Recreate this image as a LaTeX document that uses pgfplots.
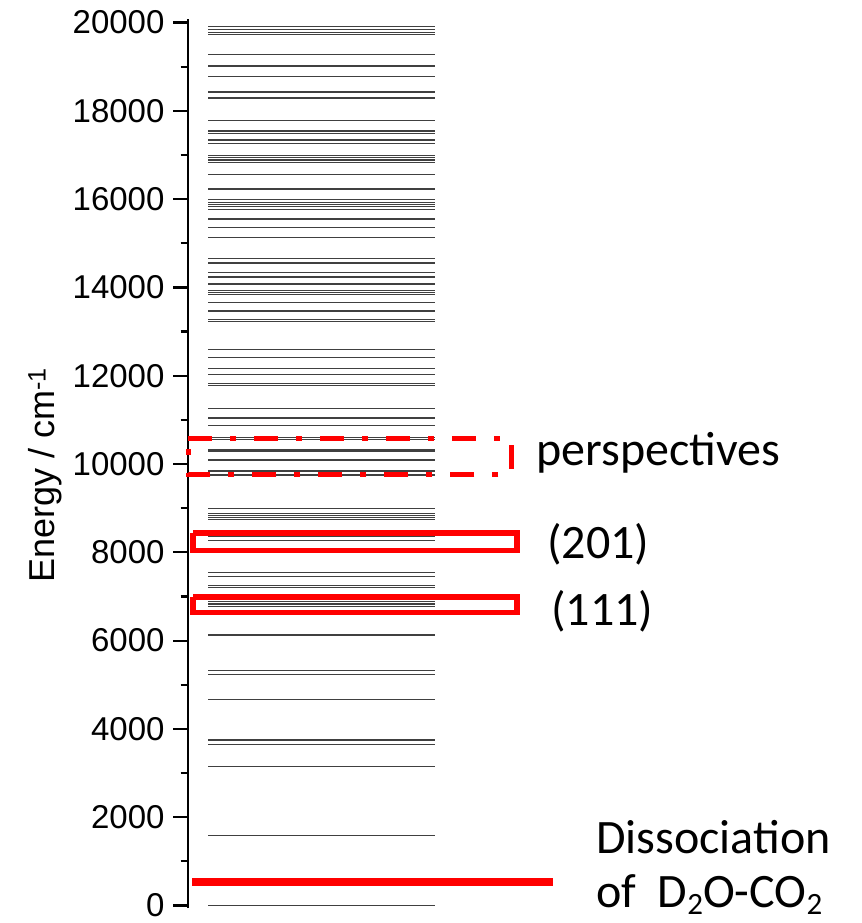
\documentclass[border=0pt]{standalone}
\usepackage{fontspec}
\setmainfont{Liberation Sans}
\newfontfamily\calibri{Carlito}
\usepackage{pgfplots}
\pgfplotsset{compat=1.18}
\newcommand{\sub}[1]{\raisebox{-0.14em}{\fontsize{31}{31}\selectfont #1}}
\begin{document}
\begin{tikzpicture}
\begin{axis}[
  scale only axis,
  width=372pt, height=888.8pt,
  xmin=188, xmax=560,
  ymin=-57, ymax=20075,
  axis x line=none,
  axis y line*=left,
  clip=false,
  ytick={0,2000,...,20000},
  minor y tick num=1,
  tick align=outside,
  major tick length=15pt,
  minor tick length=7.5pt,
  axis line style={line width=2.2pt, black},
  every tick/.append style={line width=2.2pt, black},
  every major tick/.append style={line width=2.2pt, black},
  every minor tick/.append style={line width=2.2pt, black},
  scaled y ticks=false,
  /pgf/number format/1000 sep={},
  /pgf/number format/assume math mode=true,
  yticklabel style={font=\fontsize{33}{33}\selectfont, xshift=-5pt},
  ylabel={Energy / cm\textsuperscript{-1}},
  ylabel style={font=\fontsize{36}{36}\selectfont, at={(rel axis cs:-0.384,0.4872)}, anchor=center},
]
% invisible frame for page size
\path (axis cs:0,20510) rectangle (axis cs:861,-396);

% energy levels
\pgfplotsinvokeforeach{19905,19835,19775,19720,19280,19015,18782,18426,18290,17776,17542,17490,17339,17255,16983,16938,16886,16834,16562,16229,15986,15927,15873,15828,15760,15549,15361,15135,14659,14553,14333,14236,14077,13935,13889,13835,13663,13465,13277,13230,12598,12417,12159,12023,11820,11785,11252,11042,10877,10596,10559,10317,10288,10091,9841,9751,8997,8883,8838,8793,8747,8353,8272,7538,7447,7252,7207,6881,6829,6768,6127,5327,5237,4661,3749,3651,3144,1581,0}{
  \addplot[black!75, line width=1.1pt, forget plot] coordinates {(208,#1) (435,#1)};
}

% boxes
\addplot[red, line width=5pt, dash pattern=on 24pt off 18pt on 6pt off 18pt, forget plot]
  coordinates {(188,10578) (511,10578) (511,9754) (188,9754) (188,10578)};
\addplot[red, line width=5.5pt, forget plot]
  coordinates {(193,8437) (517,8437) (517,8041) (193,8041) (193,8437)};
\addplot[red, line width=5.5pt, forget plot]
  coordinates {(193,6988) (517,6988) (517,6636) (193,6636) (193,6988)};
\addplot[red, line width=7.4pt, forget plot]
  coordinates {(192,532) (553,532)};

\node[anchor=base west, inner sep=0pt, font=\calibri\fontsize{48}{48}\selectfont] at (axis cs:536,9977) {perspectives};
\node[anchor=base west, inner sep=0pt, font=\calibri\fontsize{48}{48}\selectfont] at (axis cs:547,7864) {(201)};
\node[anchor=base west, inner sep=0pt, font=\calibri\fontsize{48}{48}\selectfont] at (axis cs:551,6353) {(111)};
\node[anchor=base west, inner sep=0pt, font=\calibri\fontsize{48}{48}\selectfont] at (axis cs:596,1182) {Dissociation};
\node[anchor=base west, inner sep=0pt, font=\calibri\fontsize{48}{48}\selectfont] at (axis cs:596,-40) {of\ \ D\sub{2}O-CO\sub{2}};
\end{axis}
\end{tikzpicture}
\end{document}
